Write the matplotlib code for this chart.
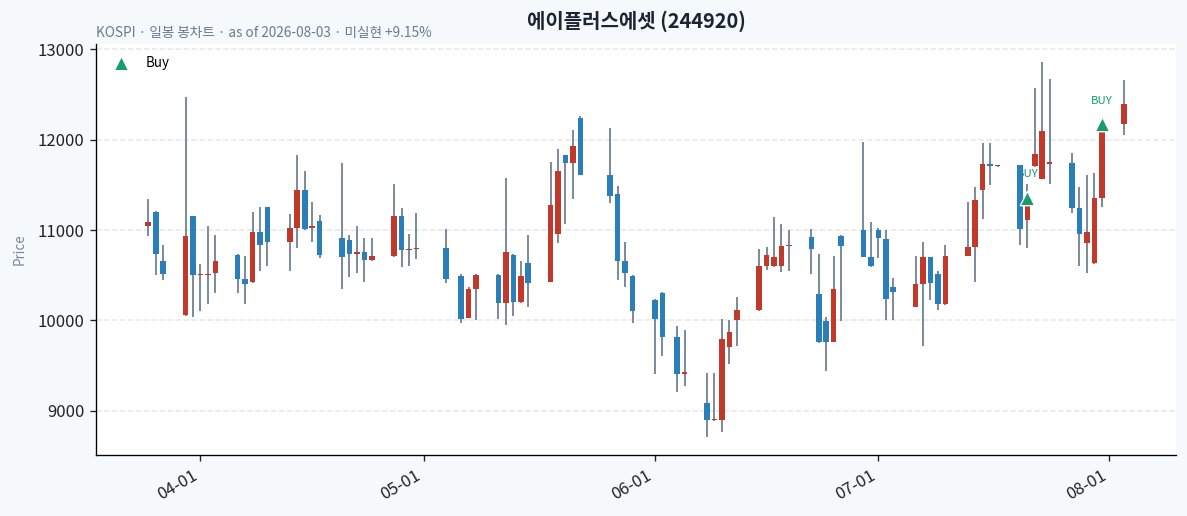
import numpy as np
import pandas as pd
import matplotlib
matplotlib.use("Agg")
import matplotlib.pyplot as plt
import matplotlib.dates as mdates

plt.rcParams['font.family'] = ['Noto Sans CJK KR', 'DejaVu Sans']

# -----------------------------
# OHLC data
# -----------------------------
dates = [
    "2026-03-25", "2026-03-26", "2026-03-27", "2026-03-30", "2026-03-31",
    "2026-04-01", "2026-04-02", "2026-04-03", "2026-04-06", "2026-04-07",
    "2026-04-08", "2026-04-09", "2026-04-10", "2026-04-13", "2026-04-14",
    "2026-04-15", "2026-04-16", "2026-04-17", "2026-04-20", "2026-04-21",
    "2026-04-22", "2026-04-23", "2026-04-24", "2026-04-27", "2026-04-28",
    "2026-04-29", "2026-04-30", "2026-05-04", "2026-05-06", "2026-05-07",
    "2026-05-08", "2026-05-11", "2026-05-12", "2026-05-13", "2026-05-14",
    "2026-05-15", "2026-05-18", "2026-05-19", "2026-05-20", "2026-05-21",
    "2026-05-22", "2026-05-26", "2026-05-27", "2026-05-28", "2026-05-29",
    "2026-06-01", "2026-06-02", "2026-06-04", "2026-06-05", "2026-06-08",
    "2026-06-09", "2026-06-10", "2026-06-11", "2026-06-12", "2026-06-15",
    "2026-06-16", "2026-06-17", "2026-06-18", "2026-06-19", "2026-06-22",
    "2026-06-23", "2026-06-24", "2026-06-25", "2026-06-26", "2026-06-29",
    "2026-06-30", "2026-07-01", "2026-07-02", "2026-07-03", "2026-07-06",
    "2026-07-07", "2026-07-08", "2026-07-09", "2026-07-10", "2026-07-13",
    "2026-07-14", "2026-07-15", "2026-07-16", "2026-07-17", "2026-07-20",
    "2026-07-21", "2026-07-22", "2026-07-23", "2026-07-24", "2026-07-27",
    "2026-07-28", "2026-07-29", "2026-07-30", "2026-07-31", "2026-08-03",
]
opens = [
    11040, 11205, 10660, 10060, 11150, 10500, 10500, 10520, 10725, 10460,
    10420, 10980, 11250, 10865, 11020, 11445, 11020, 11100, 10915, 10890,
    10735, 10760, 10665, 10710, 11150, 10775, 10785, 10805, 10495, 10030,
    10345, 10505, 10190, 10725, 10200, 10640, 10425, 10955, 11825, 11740,
    12235, 11610, 11400, 10660, 10495, 10230, 10305, 9815, 9405, 9085,
    8895, 8895, 9705, 10000, 10110, 10600, 10600, 10600, 10820, 10925,
    10290, 9990, 9765, 10935, 11000, 10700, 11000, 10900, 10375, 10150,
    10400, 10700, 10515, 10180, 10715, 10810, 11440, 11735, 11705, 11715,
    11110, 11705, 11565, 11730, 11745, 11245, 10855, 10630, 11350, 12170,
]
highs = [
    11340, 11210, 10835, 12475, 11155, 10625, 11040, 10945, 10735, 10715,
    11200, 11255, 11255, 11180, 11835, 11655, 11310, 11165, 11745, 10945,
    11040, 10915, 10915, 11510, 11245, 10955, 11190, 11010, 10515, 10370,
    10515, 10515, 11580, 10735, 10660, 10945, 11755, 11900, 11835, 12110,
    12265, 12130, 11490, 10870, 10500, 10235, 10315, 9935, 9890, 9415,
    9415, 10015, 10000, 10260, 10795, 10815, 11145, 11070, 11000, 11010,
    10735, 10035, 10715, 10945, 11970, 11090, 11020, 11000, 10465, 10710,
    10870, 10705, 10550, 10830, 11305, 11475, 11960, 11960, 11712, 11720,
    11510, 12575, 12860, 12675, 11855, 11480, 11610, 11635, 12090, 12665,
]
lows = [
    10930, 10505, 10445, 10050, 10035, 10100, 10180, 10305, 10305, 10180,
    10415, 10545, 10600, 10545, 10800, 11005, 10870, 10690, 10345, 10485,
    10530, 10425, 10655, 10705, 10590, 10600, 10680, 10415, 9970, 10025,
    10005, 10015, 9950, 10050, 10195, 10150, 10420, 10855, 11070, 11345,
    11605, 11300, 10450, 10370, 9970, 9410, 9610, 9210, 9275, 8715,
    8890, 8765, 9520, 9720, 10105, 10555, 10595, 10535, 10550, 10515,
    9755, 9440, 9760, 9990, 10700, 10595, 10690, 10005, 10005, 10145,
    9720, 10230, 10120, 10175, 10710, 10425, 11125, 11500, 11700, 10835,
    10800, 11700, 11560, 11510, 11190, 10600, 10525, 10625, 11260, 12050,
]
closes = [
    11090, 10730, 10510, 10935, 10500, 10505, 10515, 10660, 10455, 10400,
    10980, 10840, 10865, 11025, 11445, 11010, 11045, 10720, 10700, 10735,
    10760, 10665, 10715, 11150, 10775, 10785, 10805, 10455, 10020, 10350,
    10505, 10190, 10760, 10200, 10495, 10410, 11280, 11650, 11740, 11935,
    11610, 11380, 10655, 10520, 10100, 10015, 9815, 9405, 9425, 8895,
    8910, 9795, 9870, 10120, 10605, 10725, 10700, 10825, 10830, 10795,
    9760, 9765, 10345, 10825, 10700, 10600, 10915, 10235, 10315, 10405,
    10700, 10410, 10180, 10715, 10815, 11335, 11735, 11710, 11712, 11010,
    11275, 11845, 12100, 11740, 11240, 10955, 10975, 11360, 12085, 12400,
]

# Buy signals
buy_dates = ["2026-07-21", "2026-07-31"]
buy_prices = [11360, 12170]

title = "에이플러스에셋 (244920)"
subtitle = "KOSPI · 일봉 봉차트 · as of 2026-08-03 · 미실현 +9.15%"

# -----------------------------
# Styling
# -----------------------------
UP = "#c0392b"
DOWN = "#2a7fba"
WICK = "#748294"
BUY = "#179c6b"
BG = "#f5f9fc"

df = pd.DataFrame({"open": opens, "high": highs, "low": lows, "close": closes},
                  index=pd.to_datetime(dates))
x = mdates.date2num(df.index.to_pydatetime())

fig = plt.figure(figsize=(1187 / 120, 516 / 120), dpi=120, facecolor=BG)
ax = fig.add_axes([0.081, 0.118, 0.91, 0.797])
ax.set_facecolor("white")

up = df["close"] >= df["open"]
colors = np.where(up, UP, DOWN)
body_bottom = np.minimum(df["open"], df["close"])
body_height = np.maximum(np.abs(df["close"] - df["open"]), 18)

ax.vlines(x, df["low"], df["high"], color=WICK, linewidth=1.1, zorder=2)
ax.bar(x, body_height, bottom=body_bottom, width=0.75, color=colors,
       linewidth=0, zorder=3)

# Buy markers
bx = mdates.date2num(pd.to_datetime(buy_dates).to_pydatetime())
ax.scatter(bx, buy_prices, marker="^", s=75, color=BUY, edgecolor="white",
           linewidth=0.8, zorder=4, label="Buy")
for xi, yi in zip(bx, buy_prices):
    ax.annotate("BUY", (xi, yi), xytext=(0, 11), textcoords="offset points",
                ha="center", va="bottom", fontsize=6.8, color=BUY, zorder=1)

ax.set_xlim(mdates.date2num(pd.Timestamp("2026-03-18")),
            mdates.date2num(pd.Timestamp("2026-08-10")))
ax.set_ylim(8510, 13060)
ax.set_yticks([9000, 10000, 11000, 12000, 13000])
ax.xaxis.set_major_locator(mdates.MonthLocator())
ax.xaxis.set_major_formatter(mdates.DateFormatter("%m-%d"))
plt.setp(ax.get_xticklabels(), rotation=30, ha="right")
ax.tick_params(labelsize=10, colors="#222222")

ax.grid(axis="y", linestyle="--", color="#e6e6e6", linewidth=0.9)
ax.set_axisbelow(True)
for s in ["top", "right"]:
    ax.spines[s].set_visible(False)

ax.set_ylabel("Price", color="#7a8799", fontsize=8, labelpad=6.5)
ax.legend(loc="upper left", frameon=False, fontsize=8)

ax.set_title(title, fontsize=12, fontweight="bold", color="#1b2433", pad=9.8)
fig.text(0.081, 0.937, subtitle, ha="left", va="center", fontsize=8.2,
         color="#6b7a90")

plt.savefig("out.png", dpi=120, facecolor=BG)
plt.close()
